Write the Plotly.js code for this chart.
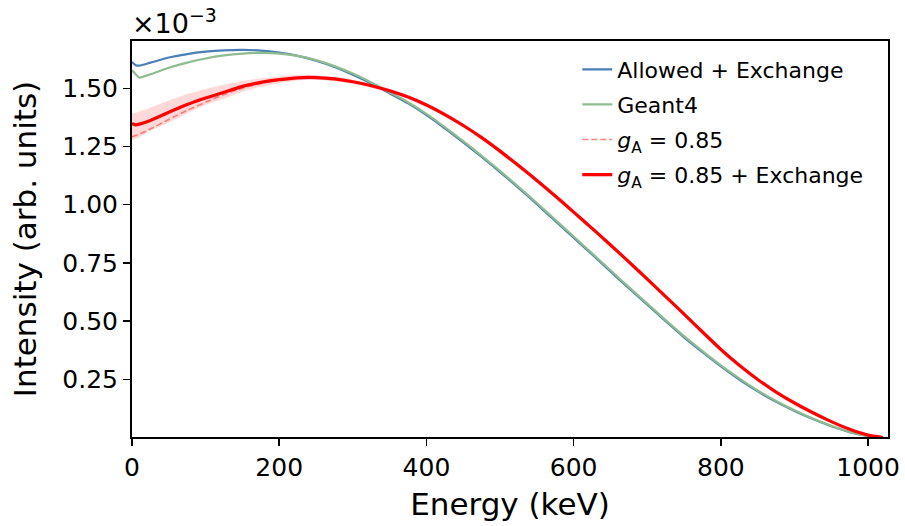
<!DOCTYPE html>
<html>
<head>
<meta charset="utf-8">
<script src="https://cdn.plot.ly/plotly-3.0.1.min.js"></script>
<style>html,body{margin:0;padding:0;background:#fff;}#chart{width:905px;height:526px;}</style>
</head>
<body>
<div id="chart"></div>
<script>
// Energy grid (keV)
const energy = [0,5,10,25,50,75,100,125,150,175,200,225,250,275,300,325,350,375,400,425,450,475,500,525,550,575,600,625,650,675,700,725,750,775,800,825,850,875,900,925,950,975,1000,1020];

// Intensity values in units of 1e-3
const allowedExchange = [1.613,1.599,1.597,1.610,1.632,1.647,1.657,1.663,1.665,1.662,1.653,1.639,1.618,1.591,1.558,1.520,1.478,1.435,1.385,1.328,1.268,1.205,1.140,1.072,1.002,0.930,0.858,0.786,0.713,0.641,0.570,0.499,0.430,0.366,0.305,0.249,0.198,0.153,0.114,0.079,0.048,0.023,0.006,0.000];
const geant4 = [1.577,1.560,1.546,1.560,1.588,1.610,1.628,1.641,1.649,1.652,1.649,1.639,1.621,1.595,1.563,1.525,1.483,1.440,1.390,1.333,1.273,1.210,1.145,1.077,1.007,0.935,0.863,0.791,0.718,0.646,0.575,0.504,0.435,0.371,0.310,0.254,0.202,0.157,0.117,0.081,0.050,0.024,0.006,0.000];
const gA085 = [1.292,1.297,1.303,1.325,1.366,1.405,1.440,1.473,1.500,1.521,1.535,1.544,1.546,1.540,1.528,1.511,1.489,1.462,1.428,1.387,1.340,1.288,1.230,1.168,1.104,1.037,0.968,0.898,0.827,0.754,0.680,0.605,0.530,0.453,0.378,0.310,0.249,0.195,0.148,0.106,0.068,0.035,0.010,0.000];
const gA085Exchange = [1.349,1.343,1.346,1.362,1.397,1.430,1.458,1.483,1.508,1.525,1.537,1.545,1.546,1.540,1.528,1.511,1.489,1.462,1.428,1.387,1.340,1.288,1.230,1.168,1.104,1.037,0.968,0.898,0.827,0.754,0.680,0.605,0.530,0.453,0.378,0.310,0.249,0.195,0.148,0.106,0.068,0.035,0.010,0.000];
const bandUpper = [1.392,1.395,1.400,1.416,1.447,1.475,1.497,1.515,1.531,1.543,1.551,1.557,1.556,1.550,1.537,1.520,1.498,1.471,1.437,1.396,1.349,1.297,1.239,1.177,1.113,1.046,0.977,0.907,0.836,0.763,0.689,0.613,0.538,0.461,0.385,0.316,0.254,0.199,0.151,0.108,0.069,0.036,0.010,0.000];
const bandLower = [1.278,1.283,1.290,1.318,1.352,1.392,1.428,1.456,1.484,1.506,1.522,1.533,1.536,1.530,1.519,1.502,1.480,1.453,1.419,1.378,1.331,1.279,1.221,1.159,1.095,1.028,0.959,0.889,0.818,0.745,0.671,0.597,0.522,0.445,0.371,0.304,0.244,0.191,0.145,0.104,0.067,0.034,0.010,0.000];

const seriesNames = ['Allowed + Exchange','Geant4','<i>g</i><sub>A</sub> = 0.85','<i>g</i><sub>A</sub> = 0.85 + Exchange'];
const xTickVals = [0,200,400,600,800,1000];
const yTickVals = [0.25,0.50,0.75,1.00,1.25,1.50];
const yTickText = ['0.25','0.50','0.75','1.00','1.25','1.50'];

const FONT = 'DejaVu Sans, sans-serif';

const traces = [
  {x: energy, y: bandLower, mode:'lines', line:{width:0, color:'rgba(0,0,0,0)', shape:'spline', smoothing:0.6}, showlegend:false, hoverinfo:'skip', legendgroup:'g4', legendrank:4},
  {x: energy, y: bandUpper, mode:'lines', line:{width:0, color:'rgba(0,0,0,0)', shape:'spline', smoothing:0.6}, fill:'tonexty', fillcolor:'rgba(255,0,0,0.15)', showlegend:false, hoverinfo:'skip', legendgroup:'g4', legendrank:4},
  {x: energy, y: allowedExchange, mode:'lines', name: seriesNames[0], line:{color:'#4a7fb5', width:2.2, shape:'spline', smoothing:0.6}, legendgroup:'g1', legendrank:1},
  {x: energy, y: geant4, mode:'lines', name: seriesNames[1], line:{color:'#8fbc8f', width:2.2, shape:'spline', smoothing:0.6}, legendgroup:'g2', legendrank:2},
  {x: energy, y: gA085, mode:'lines', name: seriesNames[2], line:{color:'rgba(255,90,80,0.75)', width:1.6, dash:'6px,3px', shape:'spline', smoothing:0.6}, legendgroup:'g3', legendrank:3},
  {x: energy, y: gA085Exchange, mode:'lines', name: seriesNames[3], line:{color:'#ff0000', width:3.2, shape:'spline', smoothing:0.6}, legendgroup:'g4', legendrank:4}
];

const layout = {
  width: 905, height: 526,
  margin: {l:132, r:17, t:41, b:89},
  paper_bgcolor:'#fff', plot_bgcolor:'#fff',
  font: {family: FONT, color:'#000', size: 22},
  showlegend: true,
  legend: {
    x: 0.589, y: 0.981, xanchor:'left', yanchor:'top',
    bgcolor:'rgba(255,255,255,0)', borderwidth:0,
    font:{family:FONT, size:22, color:'#000'},
    traceorder:'grouped', tracegroupgap:3.5
  },
  xaxis: {
    range:[0,1027], tickvals:xTickVals, ticks:'outside', ticklen:7, tickwidth:1.5, tickcolor:'#000',
    showline:true, linecolor:'#000', linewidth:2, mirror:true, showgrid:false, zeroline:false,
    tickfont:{family:FONT, size:25, color:'#000'},
    title:{text:'Energy (keV)', font:{family:FONT, size:31, color:'#000'}, standoff:12}
  },
  yaxis: {
    range:[0.002,1.703], tickvals:yTickVals, ticktext:yTickText, ticks:'outside', ticklen:7, tickwidth:1.5, tickcolor:'#000',
    showline:true, linecolor:'#000', linewidth:2, mirror:true, showgrid:false, zeroline:false,
    tickfont:{family:FONT, size:25, color:'#000'},
    title:{text:'Intensity (arb. units)', font:{family:FONT, size:31, color:'#000'}, standoff:16}
  },
  annotations: [
    {xref:'paper', yref:'paper', x:-0.002, y:1.0, xanchor:'left', yanchor:'bottom', showarrow:false,
     text:'×10<sup>−3</sup>', font:{family:FONT, size:27, color:'#000'}}
  ]
};

Plotly.newPlot('chart', traces, layout, {staticPlot:true, displayModeBar:false});
</script>
</body>
</html>
